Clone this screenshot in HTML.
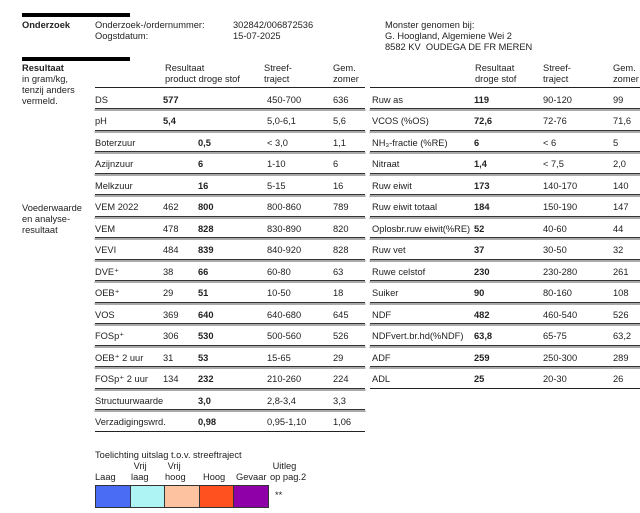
<!DOCTYPE html>
<html><head><meta charset="utf-8"><style>
body{margin:0;width:640px;height:513px;background:#fff;position:relative;overflow:hidden;font-family:"Liberation Sans",sans-serif;font-size:9.3px;color:#222}
.t{position:absolute;white-space:nowrap;line-height:11px}
.b{font-weight:bold}
.bar{position:absolute;background:#000;height:4px}
.ln{position:absolute;height:1px;background:#333;box-shadow:0 1.5px 0 0.5px #aaa}
.lk{position:absolute;height:1.3px;background:#222}
.box{position:absolute;top:485px;height:21px;width:33.6px;border:0.7px solid #333}
</style></head><body>
<div class="bar" style="left:22px;top:13px;width:108px"></div>
<div class="t b" style="left:22px;top:20px">Onderzoek</div>
<div class="t" style="left:95px;top:20px">Onderzoek-/ordernummer:<br>Oogstdatum:</div>
<div class="t" style="left:233px;top:20px">302842/006872536<br>15-07-2025</div>
<div class="t" style="left:385px;top:20px">Monster genomen bij:<br>G. Hoogland, Algemiene Wei 2<br>8582 KV&nbsp; OUDEGA DE FR MEREN</div>
<div class="bar" style="left:22px;top:57px;width:108px"></div>
<div class="t" style="left:22px;top:63px"><b>Resultaat</b><br>in gram/kg,<br>tenzij anders<br>vermeld.</div>
<div class="t" style="left:22px;top:203px">Voederwaarde<br>en analyse-<br>resultaat</div>
<div class="t" style="left:165px;top:63px">Resultaat<br>product droge stof</div>
<div class="t" style="left:264px;top:63px">Streef-<br>traject</div>
<div class="t" style="left:333px;top:63px">Gem.<br>zomer</div>
<div class="t" style="left:475px;top:63px">Resultaat<br>droge stof</div>
<div class="t" style="left:543px;top:63px">Streef-<br>traject</div>
<div class="t" style="left:613px;top:63px">Gem.<br>zomer</div>
<div class="lk" style="left:95px;top:87px;width:270px"></div>
<div class="lk" style="left:370px;top:87px;width:270px"></div>
<div id="rows"></div>
<div class="t" style="left:95px;top:450px">Toelichting uitslag t.o.v. streeftraject</div>
<div class="t" style="left:95px;top:472px">Laag</div>
<div class="t" style="left:131px;top:461px">&nbsp;Vrij<br>laag</div>
<div class="t" style="left:165px;top:461px">&nbsp;Vrij<br>hoog</div>
<div class="t" style="left:203px;top:472px">Hoog</div>
<div class="t" style="left:236px;top:472px">Gevaar</div>
<div class="t" style="left:270px;top:461px">&nbsp;Uitleg<br>op pag.2</div>
<div class="box" style="left:95px;background:#4a6cf5"></div>
<div class="box" style="left:129.6px;background:#aef4f4"></div>
<div class="box" style="left:164.2px;background:#fdc3a0"></div>
<div class="box" style="left:198.8px;background:#ff5020"></div>
<div class="box" style="left:233.4px;background:#9000a8"></div>
<div class="t" style="left:275px;top:490px">**</div>
<script>
const leftLabels=["DS","pH","Boterzuur","Azijnzuur","Melkzuur","VEM 2022","VEM","VEVI","DVE⁺","OEB⁺","VOS","FOSp⁺","OEB⁺ 2 uur","FOSp⁺ 2 uur","Structuurwaarde","Verzadigingswrd."];
const leftProduct=["577","5,4","","","","462","478","484","38","29","369","306","31","134","",""];
const leftDS=["","","0,5","6","16","800","828","839","66","51","640","530","53","232","3,0","0,98"];
const leftRange=["450-700","5,0-6,1","< 3,0","1-10","5-15","800-860","830-890","840-920","60-80","10-50","640-680","500-560","15-65","210-260","2,8-3,4","0,95-1,10"];
const leftAvg=["636","5,6","1,1","6","16","789","820","828","63","18","645","526","29","224","3,3","1,06"];
const rightLabels=["Ruw as","VCOS (%OS)","NH₃-fractie (%RE)","Nitraat","Ruw eiwit","Ruw eiwit totaal","Oplosbr.ruw eiwit(%RE)","Ruw vet","Ruwe celstof","Suiker","NDF","NDFvert.br.hd(%NDF)","ADF","ADL"];
const rightDS=["119","72,6","6","1,4","173","184","52","37","230","90","482","63,8","259","25"];
const rightRange=["90-120","72-76","< 6","< 7,5","140-170","150-190","40-60","30-50","230-280","80-160","460-540","65-75","250-300","20-30"];
const rightAvg=["99","71,6","5","2,0","140","147","44","32","261","108","526","63,2","289","26"];
const root=document.getElementById('rows');
const y0=100,dy=21.5;
function txt(x,y,s,bold){const d=document.createElement('div');d.className='t'+(bold?' b':'');d.style.left=x+'px';d.style.top=(y-5.5)+'px';d.textContent=s;root.appendChild(d);return d;}
function line(x,w,y,last){const d=document.createElement('div');d.className=last?'lk':'ln';d.style.left=x+'px';d.style.width=w+'px';d.style.top=y+'px';root.appendChild(d);return d;}
leftLabels.forEach((l,i)=>{
  const y=y0+i*dy;
  const pv=(i<2)?leftProduct[i]:leftProduct[i];
  let e;
  e=txt(95,y,l,false);
  
  
  e=txt(163,y,pv,i<2);
  
  
  e=txt(198,y,leftDS[i],true);
  
  
  e=txt(267,y,leftRange[i],false);
  
  
  e=txt(333,y,leftAvg[i],false);
  
  
  e=line(95,270,y+8,i===leftLabels.length-1);
  
  
});
rightLabels.forEach((l,i)=>{
  const y=y0+i*dy;
  let e;
  e=txt(372,y,l,false);
  
  
  e=txt(474,y,rightDS[i],true);
  
  
  e=txt(543,y,rightRange[i],false);
  
  
  e=txt(613,y,rightAvg[i],false);
  
  
  e=line(370,270,y+8,i===rightLabels.length-1);
  
  
});
</script>
</body></html>
